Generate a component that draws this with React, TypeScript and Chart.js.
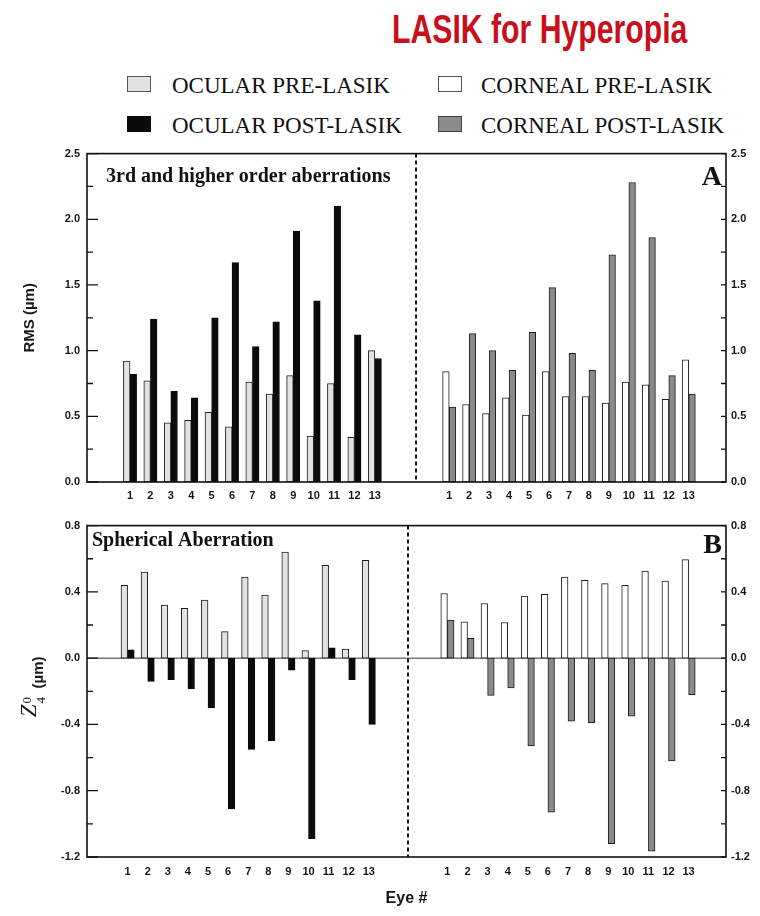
import React, { useEffect, useRef } from 'react';
import { Chart, registerables } from 'chart.js';

Chart.register(...registerables);

// ---------- data ----------
const eyeLabels = ['1', '2', '3', '4', '5', '6', '7', '8', '9', '10', '11', '12', '13'];
const legendLabels = ['OCULAR PRE-LASIK', 'OCULAR POST-LASIK', 'CORNEAL PRE-LASIK', 'CORNEAL POST-LASIK'];

// Panel A: 3rd and higher order aberrations, RMS (µm)
const ocularPreRms = [0.92, 0.77, 0.45, 0.47, 0.53, 0.42, 0.76, 0.67, 0.81, 0.35, 0.75, 0.34, 1.0];
const ocularPostRms = [0.82, 1.24, 0.69, 0.64, 1.25, 1.67, 1.03, 1.22, 1.91, 1.38, 2.1, 1.12, 0.94];
const cornealPreRms = [0.84, 0.59, 0.52, 0.64, 0.51, 0.84, 0.65, 0.65, 0.6, 0.76, 0.74, 0.63, 0.93];
const cornealPostRms = [0.57, 1.13, 1.0, 0.85, 1.14, 1.48, 0.98, 0.85, 1.73, 2.28, 1.86, 0.81, 0.67];

// Panel B: spherical aberration Z4^0 (µm)
const ocularPreZ40 = [0.44, 0.52, 0.32, 0.3, 0.35, 0.16, 0.49, 0.38, 0.64, 0.045, 0.56, 0.055, 0.59];
const ocularPostZ40 = [0.05, -0.14, -0.13, -0.185, -0.3, -0.91, -0.55, -0.5, -0.073, -1.09, 0.063, -0.13, -0.4];
const cornealPreZ40 = [0.39, 0.22, 0.33, 0.215, 0.375, 0.385, 0.49, 0.47, 0.45, 0.44, 0.525, 0.465, 0.595];
const cornealPostZ40 = [0.23, 0.12, -0.225, -0.18, -0.53, -0.93, -0.38, -0.39, -1.12, -0.35, -1.165, -0.62, -0.22];

// axis ticks
const rmsTickValues = [0, 0.5, 1, 1.5, 2, 2.5];
const rmsTickLabels = ['0.0', '0.5', '1.0', '1.5', '2.0', '2.5'];
const z40TickValues = [-1.2, -0.8, -0.4, 0, 0.4, 0.8];
const z40TickLabels = ['-1.2', '-0.8', '-0.4', '0.0', '0.4', '0.8'];

// ---------- styling ----------
const SANS = '"Liberation Sans", Arial, Helvetica, sans-serif';
const SERIF = '"Liberation Serif", "Times New Roman", serif';
const colors = {
  ocularPre: '#e2e2e2',
  ocularPost: '#0b0b0b',
  cornealPre: '#ffffff',
  cornealPost: '#8a8a8a',
  border: '#1c1c1c',
};

type PanelCfg = {
  top: number;
  canvasH: number;
  padTop: number;
  xAxisH: number;
  xMax: number;
  leftStart: number;
  leftStep: number;
  rightStart: number;
  rightStep: number;
  divider: number;
  yMin: number;
  yMax: number;
  tickValues: number[];
  tickLabels: string[];
  ocPre: number[];
  ocPost: number[];
  coPre: number[];
  coPost: number[];
  innerLabel: string;
  innerLabelDx: number;
  innerLabelDy: number;
  letter: string;
  letterDy: number;
  yTitle: 'rms' | 'z40';
  showXTitle: boolean;
  xTickPad: number;
};

const panelA: PanelCfg = {
  top: 140, canvasH: 372, padTop: 10, xAxisH: 30, xMax: 31.79,
  leftStart: 2.14, leftStep: 1.015, rightStart: 18.02, rightStep: 0.993, divider: 16.37,
  yMin: 0, yMax: 2.5, tickValues: rmsTickValues, tickLabels: rmsTickLabels,
  ocPre: ocularPreRms, ocPost: ocularPostRms, coPre: cornealPreRms, coPost: cornealPostRms,
  innerLabel: '3rd and higher order aberrations', innerLabelDx: 19, innerLabelDy: 28,
  letter: 'A', letterDy: 31, yTitle: 'rms', showXTitle: false, xTickPad: 7,
};

const panelB: PanelCfg = {
  top: 512, canvasH: 404, padTop: 10, xAxisH: 59, xMax: 31.79,
  leftStart: 2.02, leftStep: 1.0, rightStart: 17.93, rightStep: 1.0, divider: 15.97,
  yMin: -1.2, yMax: 0.8, tickValues: z40TickValues, tickLabels: z40TickLabels,
  ocPre: ocularPreZ40, ocPost: ocularPostZ40, coPre: cornealPreZ40, coPost: cornealPostZ40,
  innerLabel: 'Spherical Aberration', innerLabelDx: 5, innerLabelDy: 20,
  letter: 'B', letterDy: 27, yTitle: 'z40', showXTitle: true, xTickPad: 8,
};

function makeDecor(cfg: PanelCfg) {
  return {
    id: 'panelDecor',
    beforeDatasetsDraw(chart: any) {
      const { ctx, chartArea: ca, scales } = chart;
      ctx.save();
      if (cfg.yMin < 0) {
        const y0 = scales.y.getPixelForValue(0);
        ctx.strokeStyle = '#333';
        ctx.lineWidth = 1;
        ctx.beginPath();
        ctx.moveTo(ca.left, y0);
        ctx.lineTo(ca.right, y0);
        ctx.stroke();
      }
      const xd = scales.x.getPixelForValue(cfg.divider);
      ctx.strokeStyle = '#111';
      ctx.lineWidth = 2;
      ctx.setLineDash([4, 3]);
      ctx.beginPath();
      ctx.moveTo(xd, ca.top);
      ctx.lineTo(xd, ca.bottom);
      ctx.stroke();
      ctx.restore();
    },
    afterDatasetsDraw(chart: any) {
      const { ctx, chartArea: ca, scales } = chart;
      ctx.save();
      // frame
      ctx.strokeStyle = '#111';
      ctx.lineWidth = 1.6;
      ctx.strokeRect(ca.left, ca.top, ca.right - ca.left, ca.bottom - ca.top);
      // inward tick marks
      ctx.lineWidth = 1.3;
      const vals = cfg.tickValues;
      const marks: { v: number; major: boolean }[] = [];
      vals.forEach((v, i) => {
        marks.push({ v, major: true });
        if (i < vals.length - 1) marks.push({ v: (v + vals[i + 1]) / 2, major: false });
      });
      marks.forEach(({ v, major }) => {
        const y = scales.y.getPixelForValue(v);
        ctx.beginPath();
        ctx.moveTo(ca.left, y);
        ctx.lineTo(ca.left + (major ? 11 : 6), y);
        ctx.moveTo(ca.right, y);
        ctx.lineTo(ca.right - 5, y);
        ctx.stroke();
      });
      // inner labels
      ctx.fillStyle = '#111';
      ctx.textBaseline = 'alphabetic';
      ctx.textAlign = 'left';
      ctx.font = `bold 20px ${SERIF}`;
      ctx.fillText(cfg.innerLabel, ca.left + cfg.innerLabelDx, ca.top + cfg.innerLabelDy);
      ctx.textAlign = 'right';
      ctx.font = `bold 28px ${SERIF}`;
      ctx.fillText(cfg.letter, ca.right - 4, ca.top + cfg.letterDy);
      ctx.restore();

      // y-axis title
      ctx.save();
      ctx.fillStyle = '#1a1a1a';
      const cy = (ca.top + ca.bottom) / 2;
      if (cfg.yTitle === 'rms') {
        ctx.translate(30, cy);
        ctx.rotate(-Math.PI / 2);
        ctx.textAlign = 'center';
        ctx.textBaseline = 'middle';
        ctx.font = `bold 15px ${SANS}`;
        ctx.fillText('RMS (\u00b5m)', 0, 0);
      } else {
        ctx.translate(36, cy + 26);
        ctx.rotate(-Math.PI / 2);
        ctx.textAlign = 'left';
        ctx.textBaseline = 'alphabetic';
        ctx.font = `italic 23px ${SERIF}`;
        ctx.fillText('Z', 0, 0);
        const zw = ctx.measureText('Z').width;
        ctx.font = `13px ${SERIF}`;
        ctx.fillText('0', zw + 1, -5);
        ctx.fillText('4', zw + 1, 9);
        ctx.font = `bold 15px ${SANS}`;
        ctx.fillText('(\u00b5m)', zw + 16, 7);
      }
      ctx.restore();
    },
  };
}

function buildConfig(cfg: PanelCfg): any {
  const leftX = (i: number) => cfg.leftStart + i * cfg.leftStep;
  const rightX = (i: number) => cfg.rightStart + i * cfg.rightStep;
  const tickPositions = [...eyeLabels.map((_, i) => leftX(i)), ...eyeLabels.map((_, i) => rightX(i))];
  const tickFont = { family: SANS, size: 11, weight: 'bold' as const };
  const yLabel = (v: number) => {
    const k = cfg.tickValues.indexOf(v);
    return k >= 0 ? cfg.tickLabels[k] : '';
  };
  const yCommon = {
    type: 'linear',
    min: cfg.yMin,
    max: cfg.yMax,
    grid: { display: false, drawTicks: false },
    border: { display: false },
    afterBuildTicks: (s: any) => {
      s.ticks = cfg.tickValues.map((value) => ({ value }));
    },
  };
  return {
    type: 'bar',
    data: {
      datasets: [
        {
          label: legendLabels[0], stack: 'pre',
          data: cfg.ocPre.map((y, i) => ({ x: leftX(i), y })),
          backgroundColor: colors.ocularPre, borderColor: colors.border, borderWidth: 1,
        },
        {
          label: legendLabels[1], stack: 'post',
          data: cfg.ocPost.map((y, i) => ({ x: leftX(i), y })),
          backgroundColor: colors.ocularPost, borderColor: colors.ocularPost, borderWidth: 1,
        },
        {
          label: legendLabels[2], stack: 'pre',
          data: cfg.coPre.map((y, i) => ({ x: rightX(i), y })),
          backgroundColor: colors.cornealPre, borderColor: colors.border, borderWidth: 1,
        },
        {
          label: legendLabels[3], stack: 'post',
          data: cfg.coPost.map((y, i) => ({ x: rightX(i), y })),
          backgroundColor: colors.cornealPost, borderColor: colors.border, borderWidth: 1,
        },
      ],
    },
    options: {
      responsive: false,
      animation: false,
      devicePixelRatio: 1,
      layout: { padding: { top: cfg.padTop, left: 0, right: 0, bottom: 0 } },
      datasets: { bar: { barThickness: 6.6, borderSkipped: false } },
      plugins: {
        legend: { display: false },
        tooltip: { enabled: false },
        title: { display: false },
      },
      scales: {
        x: {
          type: 'linear',
          min: 0,
          max: cfg.xMax,
          offset: false,
          grid: { display: false, drawTicks: false },
          border: { display: false },
          afterBuildTicks: (s: any) => {
            s.ticks = tickPositions.map((value) => ({ value }));
          },
          ticks: {
            autoSkip: false,
            maxRotation: 0,
            padding: cfg.xTickPad,
            color: '#151515',
            font: tickFont,
            callback: (_v: any, idx: number) => eyeLabels[idx % eyeLabels.length],
          },
          title: {
            display: cfg.showXTitle,
            text: 'Eye #',
            color: '#151515',
            font: { family: SANS, size: 16, weight: 'bold' },
            padding: { top: 0, bottom: 8 },
          },
          afterFit: (s: any) => {
            s.height = cfg.xAxisH;
          },
        },
        y: {
          ...yCommon,
          position: 'left',
          ticks: { padding: 7, color: '#151515', font: tickFont, autoSkip: false, callback: yLabel },
          afterFit: (s: any) => {
            s.width = 87;
          },
        },
        y2: {
          ...yCommon,
          position: 'right',
          ticks: { padding: 5, color: '#151515', font: tickFont, autoSkip: false, callback: yLabel },
          afterFit: (s: any) => {
            s.width = 34;
          },
        },
      },
    },
    plugins: [makeDecor(cfg)],
  };
}

function Panel({ cfg }: { cfg: PanelCfg }) {
  const ref = useRef<HTMLCanvasElement>(null);
  useEffect(() => {
    if (!ref.current) return;
    const chart = new Chart(ref.current, buildConfig(cfg));
    return () => chart.destroy();
  }, [cfg]);
  return (
    <canvas
      ref={ref}
      width={760}
      height={cfg.canvasH}
      style={{ position: 'absolute', left: 0, top: cfg.top, width: 760, height: cfg.canvasH }}
    />
  );
}

const legendItems = [
  { label: legendLabels[0], fill: colors.ocularPre, border: '#555', left: 127, textLeft: 172, row: 0 },
  { label: legendLabels[1], fill: colors.ocularPost, border: '#0b0b0b', left: 127, textLeft: 172, row: 1 },
  { label: legendLabels[2], fill: colors.cornealPre, border: '#555', left: 438, textLeft: 481, row: 0 },
  { label: legendLabels[3], fill: colors.cornealPost, border: '#444', left: 438, textLeft: 481, row: 1 },
];

export default function App() {
  return (
    <div
      style={{
        position: 'absolute',
        left: 0,
        top: 0,
        width: 760,
        height: 916,
        background: '#ffffff',
        overflow: 'hidden',
      }}
    >
      <div
        style={{
          position: 'absolute',
          left: 392,
          top: 9,
          fontFamily: SANS,
          fontWeight: 'bold',
          fontSize: 40,
          lineHeight: '40px',
          color: '#c8101c',
          whiteSpace: 'nowrap',
          transform: 'scaleX(0.755)',
          transformOrigin: 'left top',
        }}
      >
        LASIK for Hyperopia
      </div>
      {legendItems.map((it) => (
        <React.Fragment key={it.label}>
          <div
            style={{
              position: 'absolute',
              left: it.left,
              top: 76 + it.row * 40,
              width: 22,
              height: 14,
              background: it.fill,
              border: `1.5px solid ${it.border}`,
            }}
          />
          <div
            style={{
              position: 'absolute',
              left: it.textLeft,
              top: 74 + it.row * 40,
              fontFamily: SERIF,
              fontSize: 23,
              lineHeight: '23px',
              color: '#111',
              whiteSpace: 'nowrap',
            }}
          >
            {it.label}
          </div>
        </React.Fragment>
      ))}
      <Panel cfg={panelA} />
      <Panel cfg={panelB} />
    </div>
  );
}
